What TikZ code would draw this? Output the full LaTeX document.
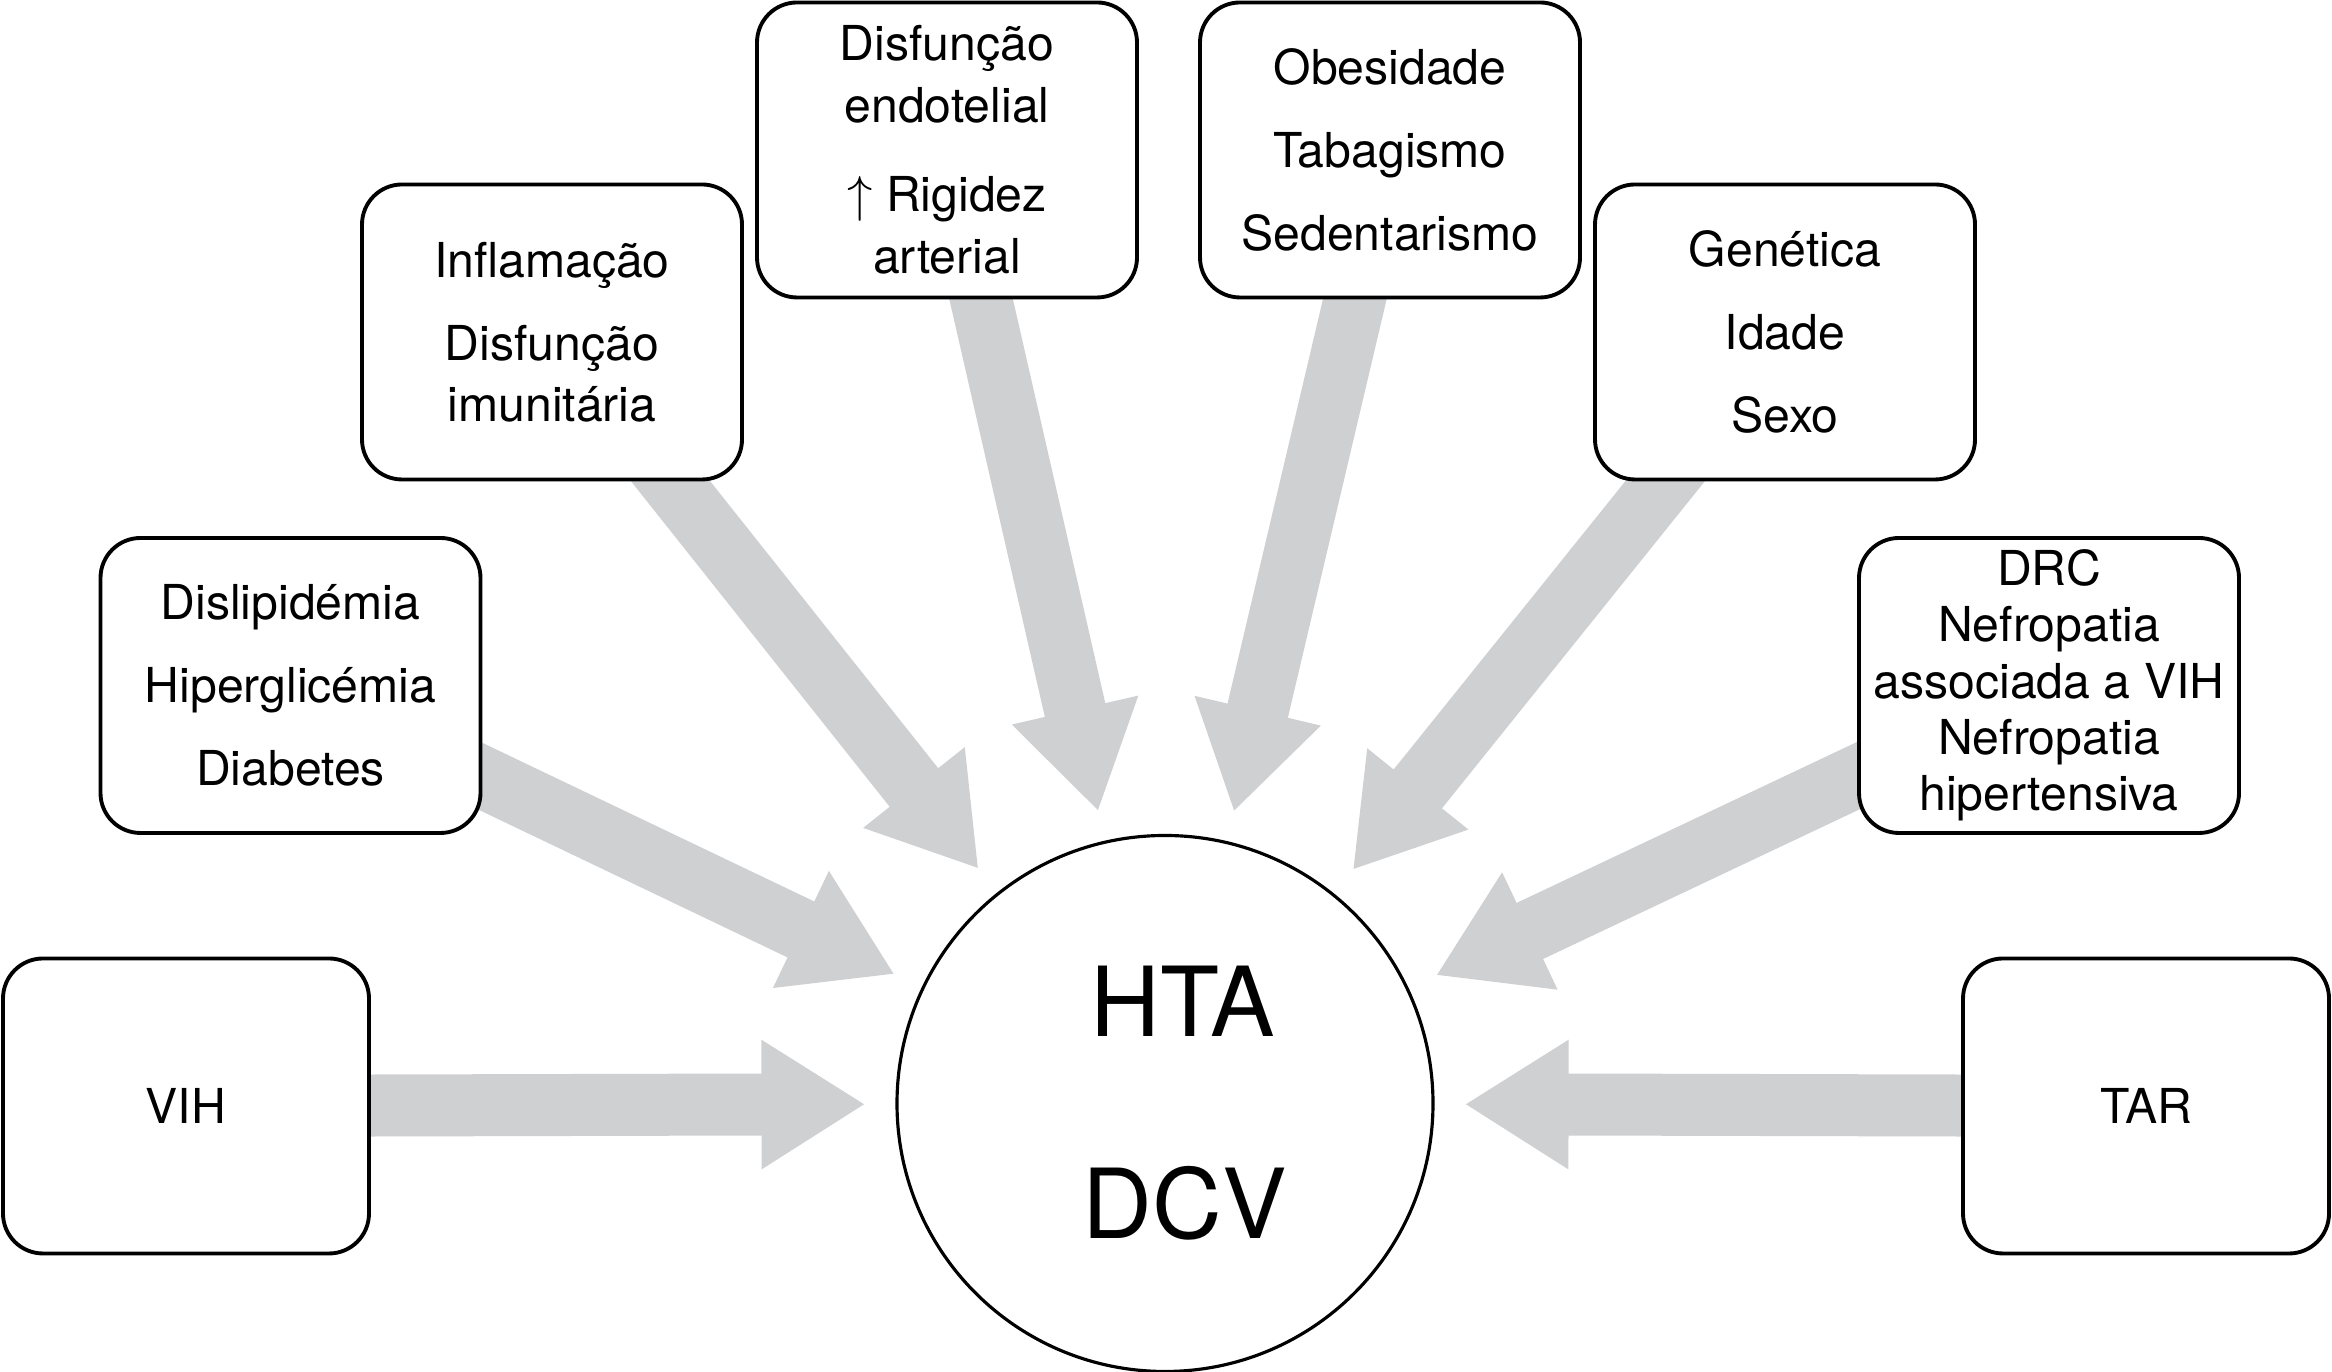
\documentclass[tikz,border=0pt]{standalone}
\usepackage{fontspec}
\setmainfont{TeX Gyre Heros}
\usetikzlibrary{arrows.meta,backgrounds}
\definecolor{arrowgray}{RGB}{207,208,210}
\begin{document}
\begin{tikzpicture}[
    factor/.style={draw,line width=1.1pt,rounded corners=0.4cm,fill=white,align=center,
      minimum width=3.8cm,minimum height=2.95cm,inner sep=0pt,font=\fontsize{13.7}{16}\selectfont},
    push/.style={arrowgray,line width=6.2mm,-{Triangle[width=12.2mm,length=10.4mm]},shorten >=3mm}]
    \useasboundingbox (0,0) rectangle (23.32,13.72);
    \node[circle,draw,line width=0.9pt,fill=white,minimum size=5.36cm,align=center,
      font=\fontsize{27.5}{27.5}\selectfont] (hub) at (11.65,2.685) {\hspace*{0.36cm}HTA\\[30pt]\hspace*{0.4cm}DCV};
    \node[factor,minimum width=3.66cm] (vih) at (1.86,2.66) {VIH};
    \node[factor,minimum width=3.66cm] (tar) at (21.46,2.66) {TAR};
    \node[factor] (dys) at (2.905,6.865) {Dislipidémia\\[7.7pt]Hiperglicémia\\[7.7pt]Diabetes};
    \node[factor] (drc) at (20.49,6.865) {DRC\\Nefropatia\\associada a VIH\\Nefropatia\\hipertensiva};
    \node[factor] (infl) at (5.52,10.40) {Inflamação\\[7.7pt]Disfunção\\[1.4pt]imunitária};
    \node[factor] (gen) at (17.85,10.40) {Genética\\[7.7pt]Idade\\[7.7pt]Sexo};
    \node[factor] (endo) at (9.47,12.22) {Disfunção\\[1.6pt]endotelial\\[9.3pt]$\uparrow$ Rigidez\\[1.6pt]arterial};
    \node[factor] (obes) at (13.90,12.22) {Obesidade\\[7.7pt]Tabagismo\\[7.7pt]Sedentarismo};
    \begin{scope}[on background layer]
        \foreach \src in {vih,dys,infl,endo,obes,gen,drc,tar}
            \draw[push] (\src.center) -- (hub);
    \end{scope}
\end{tikzpicture}
\end{document}
